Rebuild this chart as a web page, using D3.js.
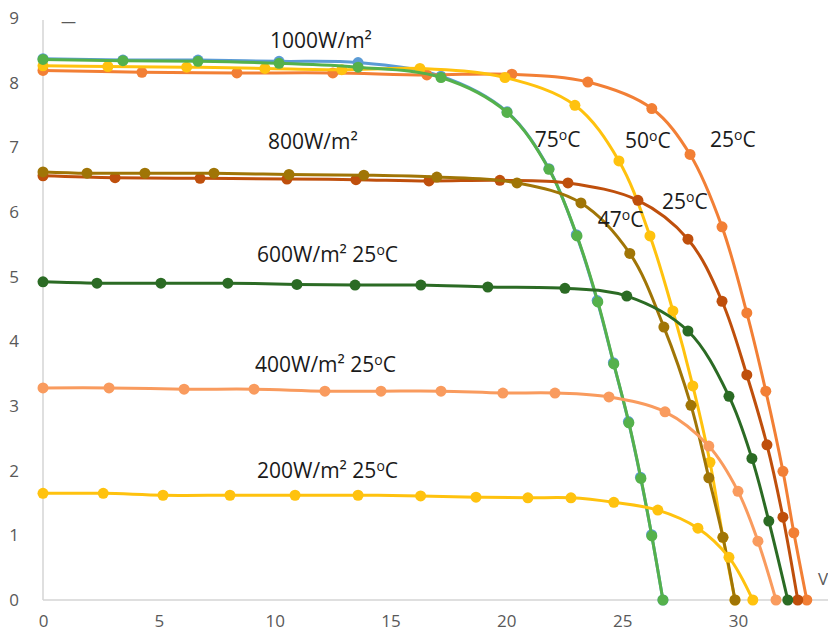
<!DOCTYPE html>
<html>
<head>
<meta charset="utf-8">
<script src="https://cdn.jsdelivr.net/npm/d3@7"></script>
<style>
  html, body { margin: 0; padding: 0; background: #fff; }
  svg { display: block; }
  .tick-label { font-family: "Open Sans", "Liberation Sans", sans-serif; font-size: 17px; fill: #595959; }
  .note { font-family: "Open Sans", "Liberation Sans", sans-serif; font-size: 21px; fill: #1a1a1a; }
</style>
</head>
<body>
<div id="chart"></div>
<script>
// I-V curves (V in volts, I in amps)
var v1000_25 = [0, 4.27, 8.37, 12.51, 16.57, 20.24, 23.52, 26.28, 27.93, 29.31, 30.38, 31.2, 31.94, 32.41, 32.97];
var i1000_25 = [8.19, 8.16, 8.15, 8.15, 8.12, 8.13, 8.01, 7.6, 6.89, 5.77, 4.44, 3.23, 1.99, 1.04, 0];

var v1000_50 = [0, 2.8, 6.2, 9.58, 12.9, 16.27, 19.94, 22.96, 24.86, 26.2, 27.19, 28.05, 28.79, 29.35, 29.87];
var i1000_50 = [8.26, 8.25, 8.24, 8.22, 8.2, 8.22, 8.08, 7.65, 6.79, 5.63, 4.47, 3.31, 2.13, 0.97, 0];

var v1000_75b = [0, 3.45, 6.69, 10.19, 13.6, 17.18, 20.03, 21.84, 23.02, 23.92, 24.62, 25.27, 25.79, 26.27, 26.76];
var i1000_75b = [8.37, 8.35, 8.35, 8.33, 8.31, 8.1, 7.55, 6.67, 5.65, 4.63, 3.67, 2.76, 1.9, 1.01, 0];

var v1000_75 = [0, 3.45, 6.69, 10.19, 13.6, 17.18, 20.03, 21.84, 23.05, 23.95, 24.64, 25.29, 25.81, 26.28, 26.76];
var i1000_75 = [8.36, 8.34, 8.33, 8.3, 8.24, 8.08, 7.54, 6.66, 5.63, 4.61, 3.65, 2.74, 1.88, 0.99, 0];

var v800_25 = [0, 3.11, 6.78, 10.53, 13.51, 16.66, 19.72, 22.66, 25.68, 27.84, 29.31, 30.38, 31.25, 31.94, 32.58];
var i800_25 = [6.56, 6.53, 6.52, 6.51, 6.5, 6.48, 6.49, 6.45, 6.18, 5.58, 4.62, 3.48, 2.4, 1.28, 0];

var v800_47 = [0, 1.9, 4.4, 7.38, 10.62, 13.85, 17.0, 20.46, 23.22, 25.33, 26.8, 27.97, 28.74, 29.35, 29.87];
var i800_47 = [6.62, 6.6, 6.6, 6.6, 6.58, 6.57, 6.54, 6.45, 6.14, 5.36, 4.22, 3.01, 1.89, 0.97, 0];

var v600_25 = [0, 2.33, 5.09, 7.98, 10.96, 13.47, 16.31, 19.2, 22.53, 25.2, 27.84, 29.61, 30.6, 31.33, 32.15];
var i600_25 = [4.92, 4.9, 4.9, 4.9, 4.88, 4.87, 4.87, 4.84, 4.82, 4.7, 4.16, 3.15, 2.19, 1.22, 0];

var v400_25 = [0, 2.85, 6.09, 9.11, 12.17, 14.59, 17.18, 19.85, 22.1, 24.43, 26.85, 28.74, 30.0, 30.86, 31.64];
var i400_25 = [3.28, 3.28, 3.26, 3.26, 3.23, 3.23, 3.23, 3.2, 3.2, 3.14, 2.91, 2.38, 1.68, 0.91, 0];

var v200_25 = [0, 2.6, 5.18, 8.07, 10.88, 13.6, 16.3, 18.69, 20.93, 22.79, 24.64, 26.54, 28.27, 29.61, 30.64];
var i200_25 = [1.65, 1.65, 1.62, 1.62, 1.62, 1.62, 1.61, 1.59, 1.58, 1.58, 1.51, 1.39, 1.11, 0.66, 0];

var xTicks = [0, 5, 10, 15, 20, 25, 30];
var yTicks = [0, 1, 2, 3, 4, 5, 6, 7, 8, 9];

// annotation text, anchored in data units (V, I)
var noteText = ["1000W/m²", "800W/m²", "75", "50", "25", "25", "47", "600W/m² 25", "400W/m² 25", "200W/m² 25"];
var noteDeg  = [false, false, true, true, true, true, true, true, true, true];
var noteV    = [9.8, 9.71, 21.23, 25.12, 28.79, 26.72, 23.95, 9.24, 9.15, 9.24];
var noteI    = [8.54, 6.97, 7.0, 6.99, 7.0, 6.05, 5.77, 5.23, 3.53, 1.89];

var width = 828, height = 632;

var x = d3.scaleLinear().domain([0, 30]).range([43, 738]);
var y = d3.scaleLinear().domain([0, 9]).range([600, 18]);

var svg = d3.select("#chart").append("svg")
    .attr("width", width)
    .attr("height", height);

// axes
var xAxis = svg.append("g")
    .attr("transform", "translate(0," + y(0) + ")")
    .call(d3.axisBottom(x).tickValues(xTicks).tickSize(0).tickPadding(15));
xAxis.select(".domain").remove();
xAxis.append("line")
    .attr("x1", x(0)).attr("x2", width)
    .attr("stroke", "#d4d4d4").attr("stroke-width", 1.5);
xAxis.selectAll(".tick text").attr("class", "tick-label").attr("fill", null);

var yAxis = svg.append("g")
    .attr("transform", "translate(" + x(0) + ",0)")
    .call(d3.axisLeft(y).tickValues(yTicks).tickSize(0).tickPadding(24));
yAxis.select(".domain").remove();
yAxis.append("line")
    .attr("y1", y(8.97)).attr("y2", y(0))
    .attr("stroke", "#d4d4d4").attr("stroke-width", 1.5);
yAxis.selectAll(".tick text").attr("class", "tick-label").attr("fill", null);

// cut-off axis titles
svg.append("text").attr("class", "tick-label")
    .attr("x", 61).attr("y", 27).style("font-size", "15px").text("—");
svg.append("text").attr("class", "tick-label")
    .attr("x", 818).attr("y", 585).text("V");

var series = [
  { v: v1000_75b, i: i1000_75b, color: "#5b9bd5" },
  { v: v1000_25, i: i1000_25, color: "#f27f35" },
  { v: v1000_50, i: i1000_50, color: "#ffc20e" },
  { v: v1000_75, i: i1000_75, color: "#55b14b" },
  { v: v800_25, i: i800_25, color: "#bf4f0c" },
  { v: v800_47, i: i800_47, color: "#a07506" },
  { v: v600_25, i: i600_25, color: "#2b6b24" },
  { v: v400_25, i: i400_25, color: "#f99b5e" },
  { v: v200_25, i: i200_25, color: "#ffc20e" }
];

var line = d3.line()
    .x(function(d) { return x(d[0]); })
    .y(function(d) { return y(d[1]); })
    .curve(d3.curveCatmullRom.alpha(0.5));

series.forEach(function(s) {
  var pts = s.v.map(function(v, k) { return [v, s.i[k]]; });
  var g = svg.append("g");
  g.append("path")
      .datum(pts)
      .attr("d", line)
      .attr("fill", "none")
      .attr("stroke", s.color)
      .attr("stroke-width", 3);
  g.selectAll("circle")
      .data(pts)
    .enter().append("circle")
      .attr("cx", function(d) { return x(d[0]); })
      .attr("cy", function(d) { return y(d[1]); })
      .attr("r", 5.5)
      .attr("fill", s.color);
});

// annotations
noteText.forEach(function(t, k) {
  var txt = svg.append("text")
      .attr("class", "note")
      .attr("x", x(noteV[k]))
      .attr("y", y(noteI[k]));
  txt.append("tspan").text(t);
  if (noteDeg[k]) {
    txt.append("tspan").attr("dy", -7).style("font-size", "14px").text("o");
    txt.append("tspan").attr("dy", 7).text("C");
  }
});
</script>
</body>
</html>
